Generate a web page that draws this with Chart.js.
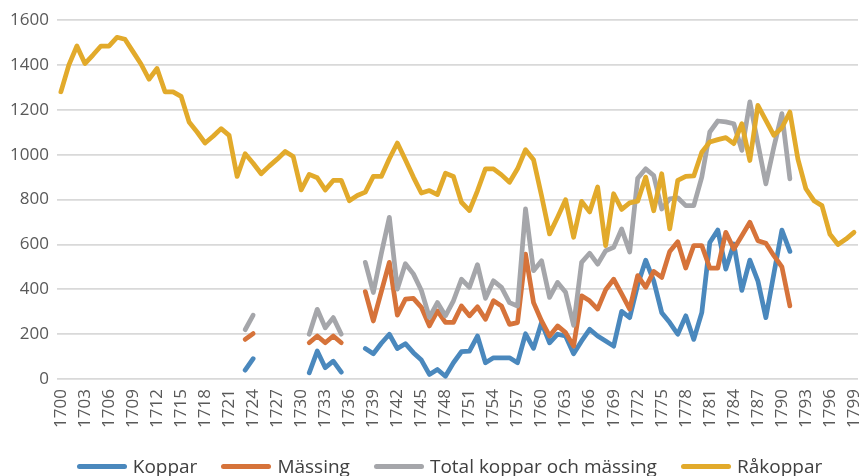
<!DOCTYPE html>
<html>
<head>
<meta charset="utf-8">
<script src="https://cdn.jsdelivr.net/npm/chart.js@4.4.0/dist/chart.umd.min.js"></script>
<style>
  html, body { margin: 0; padding: 0; background: #fff; }
  .wrap { position: relative; width: 859px; height: 476px; }
  #legend {
    position: absolute; left: 40px; right: 0; top: 453px;
    display: flex; justify-content: center; align-items: center;
    font-family: "Open Sans", sans-serif; font-size: 19px; color: #404040;
  }
  .item { display: flex; align-items: center; margin: 0 12px; }
  .swatch { width: 50px; height: 5px; border-radius: 3px; margin-right: 6px; }
</style>
</head>
<body>
<div class="wrap">
  <canvas id="chart1" width="859" height="476"></canvas>
  <div id="legend"></div>
</div>
<script>
// years 1700-1799
const years = [];
for (let y = 1700; y <= 1799; y++) years.push(String(y));

const koppar = [
  null, null, null, null, null, null, null, null, null, null,
  null, null, null, null, null, null, null, null, null, null,
  null, null, null, 40, 91, null, null, null, null, null,
  null, 28, 125, 51, 80, 31, null, null, 136, 113,
  160, 200, 136, 158, 118, 85, 21, 43, 13, 73,
  122, 125, 192, 73, 95, 95, 95, 73, 202, 137,
  252, 162, 200, 192, 113, 170, 222, 192, 170, 147,
  302, 274, 420, 530, 438, 296, 252, 200, 282, 177,
  296, 609, 664, 490, 602, 395, 530, 438, 274, 470,
  664, 569, null, null, null, null, null, null, null, null
];

const massing = [
  null, null, null, null, null, null, null, null, null, null,
  null, null, null, null, null, null, null, null, null, null,
  null, null, null, 177, 203, null, null, null, null, null,
  null, 162, 192, 162, 192, 162, null, null, 390, 259,
  390, 520, 285, 356, 360, 320, 237, 304, 253, 253,
  326, 282, 322, 267, 349, 326, 244, 252, 557, 341,
  259, 192, 237, 207, 147, 371, 349, 312, 398, 445,
  380, 312, 461, 409, 480, 453, 569, 612, 495, 595,
  595, 495, 495, 654, 580, 639, 699, 617, 605, 550,
  500, 326, null, null, null, null, null, null, null, null
];

const total = [
  null, null, null, null, null, null, null, null, null, null,
  null, null, null, null, null, null, null, null, null, null,
  null, null, null, 220, 285, null, null, null, null, null,
  null, 200, 311, 229, 274, 200, null, null, 520, 386,
  560, 721, 401, 514, 469, 395, 275, 341, 282, 349,
  445, 409, 510, 360, 438, 409, 341, 326, 758, 483,
  527, 364, 431, 387, 240, 520, 561, 512, 572, 587,
  669, 566, 895, 937, 907, 758, 803, 808, 773, 773,
  900, 1101, 1150, 1146, 1138, 1019, 1235, 1050, 870, 1034,
  1183, 892, null, null, null, null, null, null, null, null
];

const rakoppar = [
  1280, 1400, 1484, 1406, 1444, 1484, 1484, 1523, 1514, 1459,
  1404, 1336, 1384, 1280, 1280, 1260, 1146, 1101, 1052, 1082,
  1116, 1086, 903, 1004, 962, 915, 949, 980, 1014, 992,
  843, 912, 897, 843, 885, 885, 795, 818, 833, 903,
  903, 982, 1052, 977, 900, 829, 840, 822, 917, 903,
  788, 751, 839, 937, 937, 910, 877, 937, 1022, 977,
  817, 647, 721, 799, 632, 792, 745, 856, 595, 826,
  756, 785, 793, 900, 750, 915, 669, 885, 903, 905,
  1011, 1056, 1067, 1076, 1049, 1138, 974, 1220, 1153, 1086,
  1120, 1190, 980, 848, 795, 773, 645, 600, 624, 654
];

const yTicks = [0, 200, 400, 600, 800, 1000, 1200, 1400, 1600];

function line(label, data, color, order) {
  return {
    label: label,
    data: data,
    borderColor: color,
    backgroundColor: color,
    borderWidth: 4.75,
    pointRadius: 0,
    tension: 0,
    borderJoinStyle: 'round',
    borderCapStyle: 'round',
    spanGaps: false,
    order: order
  };
}

const ctx = document.getElementById('chart1');
const chart1 = new Chart(ctx, {
  type: 'line',
  data: {
    labels: years,
    datasets: [
      line('Koppar', koppar, '#4a88bd', 3),
      line('Mässing', massing, '#d6733a', 2),
      line('Total koppar och mässing', total, '#a5a6aa', 1),
      line('Råkoppar', rakoppar, '#e2aa2b', 0)
    ]
  },
  options: {
    responsive: false,
    animation: false,
    layout: {
      padding: { left: 2, right: 1, top: 20, bottom: 38 }
    },
    plugins: {
      legend: { display: false },
      tooltip: { enabled: false }
    },
    scales: {
      x: {
        offset: true,
        grid: { display: false, drawTicks: false },
        border: { display: false },
        afterFit: function (scale) {
          // let the plot run to the edges like the original
          scale.paddingLeft = 0;
          scale.paddingRight = 0;
        },
        ticks: {
          autoSkip: false,
          minRotation: 90,
          maxRotation: 90,
          padding: 10,
          color: '#595959',
          font: { family: 'Open Sans', size: 17 },
          callback: function (val, i) {
            return i % 3 === 0 ? years[i] : '';
          }
        }
      },
      y: {
        min: yTicks[0],
        max: yTicks[yTicks.length - 1],
        grid: { color: '#d9d9d9', lineWidth: 1.75, drawTicks: false },
        border: { display: false },
        ticks: {
          stepSize: 200,
          padding: 8,
          color: '#595959',
          font: { family: 'Open Sans', size: 17 },
          callback: function (val) { return String(val); }
        }
      }
    }
  }
});

// legend
const legend = document.getElementById('legend');
chart1.data.datasets.forEach(ds => {
  const item = document.createElement('div');
  item.className = 'item';
  item.innerHTML = '<span class="swatch" style="background:' + ds.borderColor + '"></span>' + ds.label;
  legend.appendChild(item);
});
</script>
</body>
</html>
